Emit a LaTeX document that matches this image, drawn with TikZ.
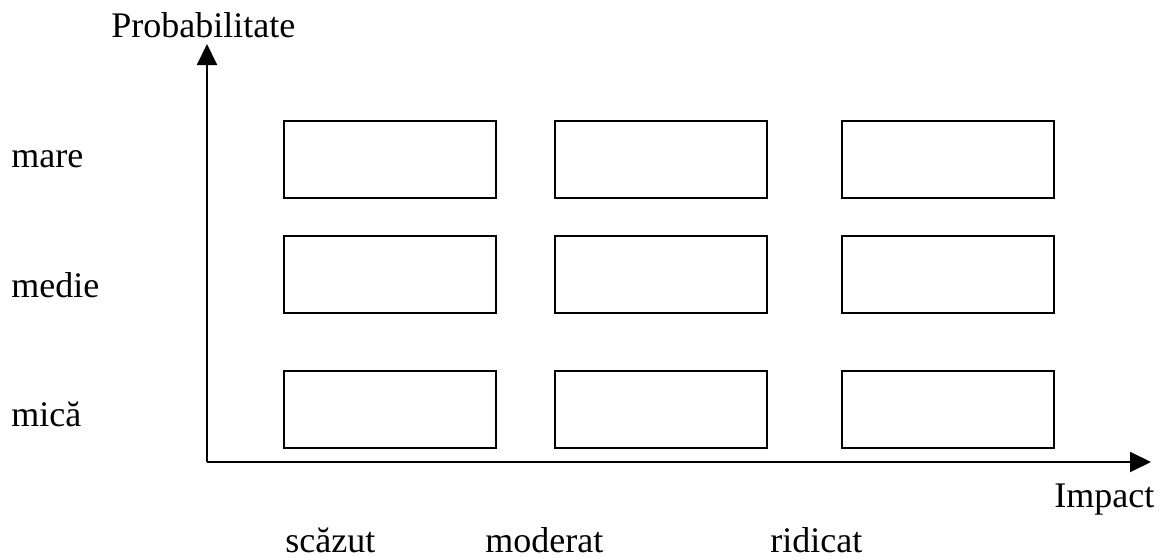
\documentclass[tikz,border=0pt]{standalone}
\usepackage{fontspec}
\setmainfont{Liberation Serif}
\usetikzlibrary{arrows.meta}
\begin{document}
\begin{tikzpicture}[x=0.5pt,y=-0.5pt,
  cell/.style={draw=black,line width=1pt,minimum width=106pt,minimum height=38.5pt,inner sep=0pt,fill=white},
  lbl/.style={anchor=base west,inner sep=0pt,font=\fontsize{18}{21}\selectfont},
  axis/.style={line width=1pt,-{Triangle[length=10.5pt,width=10pt]}}]
\useasboundingbox (0,0) rectangle (1162,557);
% axes
\coordinate (o) at (207,462);
\coordinate (ytip) at (207,44);
\coordinate (xtip) at (1151,462);
\draw[axis] (o) -- (ytip);
\draw[axis] (o) -- (xtip);
% boxes
\node[cell] (b11) at (390,159.5) {};
\node[cell] (b12) at (661,159.5) {};
\node[cell] (b13) at (948,159.5) {};
\node[cell] (b21) at (390,274) {};
\node[cell] (b22) at (661,274) {};
\node[cell] (b23) at (948,274) {};
\node[cell] (b31) at (390,409.5) {};
\node[cell] (b32) at (661,409.5) {};
\node[cell] (b33) at (948,409.5) {};
% labels
\node[lbl] (prob) at (111,37) {Probabilitate};
\node[lbl] (mare) at (11,167) {mare};
\node[lbl] (medie) at (11,297) {medie};
\node[lbl] (mica) at (11,426) {mică};
\node[lbl] (imp) at (1054,507) {Impact};
\node[lbl] (scaz) at (285,552) {scăzut};
\node[lbl] (mod) at (485,552) {moderat};
\node[lbl] (rid) at (770,552) {ridicat};
\end{tikzpicture}
\end{document}
